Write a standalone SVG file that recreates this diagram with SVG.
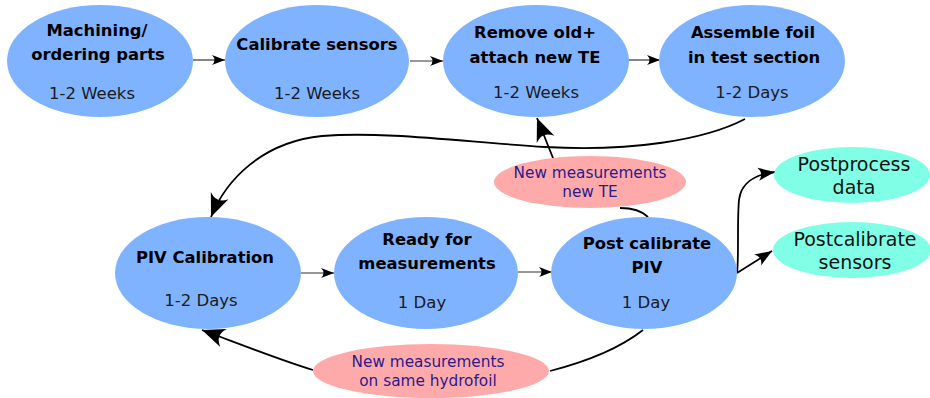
<svg xmlns="http://www.w3.org/2000/svg" width="930" height="398" viewBox="0 0 930 398">
  <style>
    .step { fill: #80b3ff; }
    .out { fill: #80ffe6; }
    .loop { fill: #ffaaaa; }
    .title { font-family: "DejaVu Sans", Verdana, sans-serif; font-size: 16.4px; font-weight: bold; fill: #000; text-anchor: middle; }
    .dur { font-family: "DejaVu Sans", Verdana, sans-serif; font-size: 16.5px; fill: #1a1a1a; text-anchor: middle; }
    .outtxt { font-family: "DejaVu Sans", Verdana, sans-serif; font-size: 19px; fill: #111; text-anchor: middle; }
    .looptxt { font-family: "DejaVu Sans", Verdana, sans-serif; font-size: 15.3px; fill: #2a1a8a; text-anchor: middle; }
    .thin { fill: none; stroke: #333; stroke-width: 1.2; }
    .thick { fill: none; stroke: #000; stroke-width: 1.8; }
  </style>
  <defs>
    <marker id="arrowSmall" markerUnits="userSpaceOnUse" markerWidth="16" markerHeight="12" viewBox="-13 -6 16 12" refX="0" refY="0" orient="auto">
      <path d="M0,0 L-13,-5 Q-8,0 -13,5 Z" fill="#000"/>
    </marker>
    <marker id="arrowMid" markerUnits="userSpaceOnUse" markerWidth="20" markerHeight="16" viewBox="-17 -8 20 16" refX="0" refY="0" orient="auto">
      <path d="M0,0 L-17,-6.5 Q-11,0 -17,6.5 Z" fill="#000"/>
    </marker>
    <marker id="arrowBig" markerUnits="userSpaceOnUse" markerWidth="26" markerHeight="22" viewBox="-23 -11 26 22" refX="0" refY="0" orient="auto">
      <path d="M0,0 L-23,-9.5 Q-14,0 -23,9.5 Z" fill="#000"/>
    </marker>
  </defs>

  <!-- connectors -->
  <g id="connectors">
    <path class="thin" d="M193,60 L225,60" marker-end="url(#arrowSmall)"/>
    <path class="thin" d="M410,61 L443,61" marker-end="url(#arrowSmall)"/>
    <path class="thin" d="M628,60 L660,60" marker-end="url(#arrowSmall)"/>
    <path class="thin" d="M301,273 L334,273" marker-end="url(#arrowSmall)"/>
    <path class="thin" d="M518,272 L552,272" marker-end="url(#arrowSmall)"/>
    <!-- assemble foil back down to PIV calibration -->
    <path class="thick" d="M745,119 C705,140 630,152 545,147 C465,142 385,131 322,136 C262,142 226,180 211,217" marker-end="url(#arrowBig)"/>
    <!-- new TE loop -->
    <path class="thick" d="M553,158 L537,118" marker-end="url(#arrowBig)"/>
    <path class="thick" d="M648,217 C642,211 632,208 620,208"/>
    <!-- same hydrofoil loop -->
    <path class="thick" d="M643,330 C620,348 585,362 550,371"/>
    <path class="thick" d="M313,370 C280,360 245,346 202,330" marker-end="url(#arrowBig)"/>
    <!-- outputs -->
    <path class="thick" d="M737,273 C739,260 737,220 739,200 C741,184 752,175 775,172" marker-end="url(#arrowMid)"/>
    <path class="thick" d="M737,273 L772,251" marker-end="url(#arrowMid)"/>
  </g>

  <g id="machining">
    <ellipse class="step" cx="100" cy="61" rx="93" ry="56"/>
    <text class="title" x="97" y="36">Machining/</text>
    <text class="title" x="98" y="60">ordering parts</text>
    <text class="dur" x="92" y="99">1-2 Weeks</text>
  </g>
  <g id="calibrate-sensors">
    <ellipse class="step" cx="317" cy="61" rx="92" ry="56"/>
    <text class="title" x="317" y="50">Calibrate sensors</text>
    <text class="dur" x="317" y="99">1-2 Weeks</text>
  </g>
  <g id="attach-te">
    <ellipse class="step" cx="536" cy="61" rx="93" ry="56"/>
    <text class="title" x="535" y="38">Remove old+</text>
    <text class="title" x="535" y="63">attach new TE</text>
    <text class="dur" x="536" y="98">1-2 Weeks</text>
  </g>
  <g id="assemble-foil">
    <ellipse class="step" cx="752" cy="61" rx="93" ry="56"/>
    <text class="title" x="753" y="38">Assemble foil</text>
    <text class="title" x="754" y="63">in test section</text>
    <text class="dur" x="752" y="98">1-2 Days</text>
  </g>
  <g id="piv-calibration">
    <ellipse class="step" cx="208" cy="273" rx="93" ry="56"/>
    <text class="title" x="205" y="263">PIV Calibration</text>
    <text class="dur" x="201" y="306">1-2 Days</text>
  </g>
  <g id="ready">
    <ellipse class="step" cx="426" cy="273" rx="92" ry="56"/>
    <text class="title" x="427" y="245">Ready for</text>
    <text class="title" x="427" y="269">measurements</text>
    <text class="dur" x="422" y="308">1 Day</text>
  </g>
  <g id="post-calibrate-piv">
    <ellipse class="step" cx="644" cy="273" rx="93" ry="56"/>
    <text class="title" x="647" y="249">Post calibrate</text>
    <text class="title" x="647" y="273">PIV</text>
    <text class="dur" x="646" y="308">1 Day</text>
  </g>
  <g id="postprocess-data">
    <ellipse class="out" cx="852" cy="175" rx="78" ry="28"/>
    <text class="outtxt" x="854" y="171">Postprocess</text>
    <text class="outtxt" x="854" y="194">data</text>
  </g>
  <g id="postcalibrate-sensors">
    <ellipse class="out" cx="852" cy="250" rx="79" ry="28"/>
    <text class="outtxt" x="855" y="246">Postcalibrate</text>
    <text class="outtxt" x="855" y="269">sensors</text>
  </g>
  <g id="new-te">
    <ellipse class="loop" cx="590" cy="182" rx="96" ry="26"/>
    <text class="looptxt" x="590" y="178">New measurements</text>
    <text class="looptxt" x="590" y="197">new TE</text>
  </g>
  <g id="same-hydrofoil">
    <ellipse class="loop" cx="431" cy="371" rx="118" ry="27"/>
    <text class="looptxt" x="428" y="367">New measurements</text>
    <text class="looptxt" x="428" y="386">on same hydrofoil</text>
  </g>
</svg>
